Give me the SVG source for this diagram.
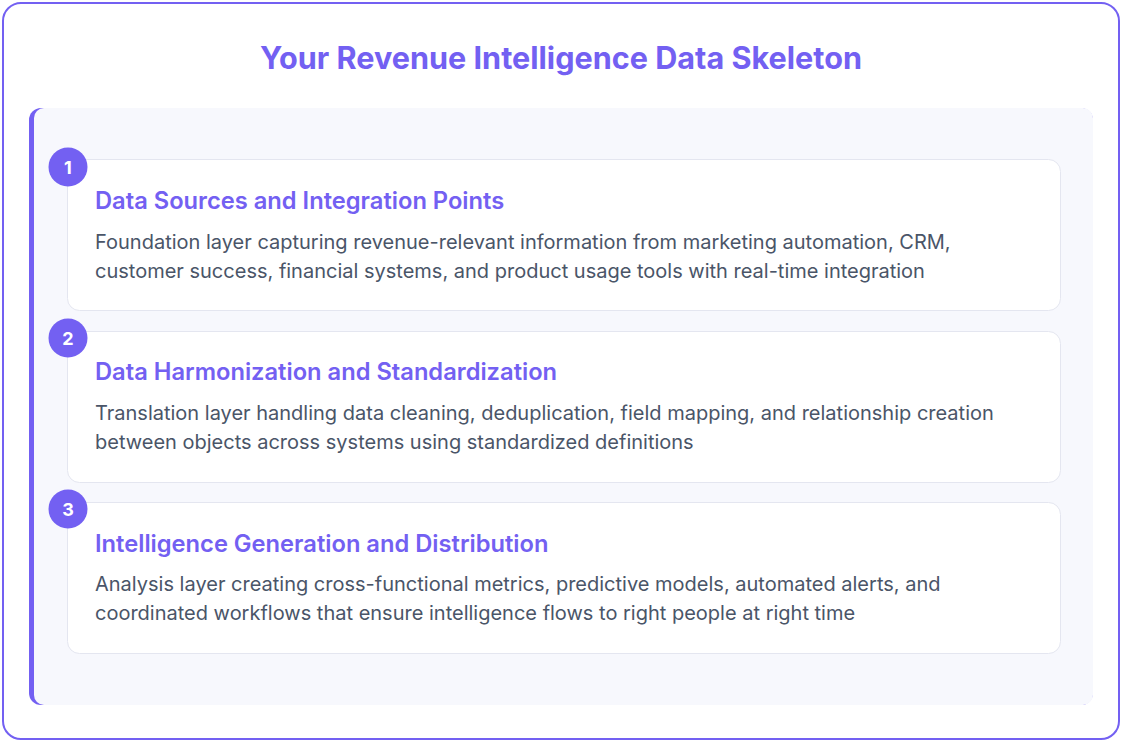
<svg xmlns="http://www.w3.org/2000/svg" width="1122" height="742" viewBox="0 0 1122 742">
<style>
.title{font-family:Inter,"Liberation Sans",sans-serif;font-weight:700;font-size:30.6px;fill:#7360f2}
.ct{font-family:Inter,"Liberation Sans",sans-serif;font-weight:600;font-size:23.7px;fill:#7360f2}
.cb{font-family:Inter,"Liberation Sans",sans-serif;font-weight:400;font-size:20px;fill:#4a5568}
.card{fill:#ffffff;stroke:#e4e6f0;stroke-width:1}
.badge{fill:#7360f2}
.bn{font-family:Inter,"Liberation Sans",sans-serif;font-weight:700;font-size:18px;fill:#ffffff;text-anchor:middle}
</style>
<rect x="0" y="0" width="1122" height="742" fill="#ffffff"/>
<rect x="3" y="3" width="1116" height="736" rx="18" fill="#ffffff" stroke="#7360f2" stroke-width="2"/>
<text class="title" x="561" y="69" text-anchor="middle">Your Revenue Intelligence Data Skeleton</text>
<g id="panel">
<rect x="29" y="108" width="1064" height="597" rx="12" fill="#7360f2"/>
<rect x="34" y="108" width="1059" height="597" rx="10" fill="#f7f8fd"/>
</g>
<g id="connectors"></g>
<g id="node1">
<rect class="card" x="67.5" y="159.5" width="993" height="151" rx="12"/>
<circle class="badge" cx="68" cy="167" r="19.5"/>
<text class="bn" x="68" y="173.5">1</text>
<text class="ct" x="95" y="209">Data Sources and Integration Points</text>
<text class="cb" x="95" y="249">Foundation layer capturing revenue-relevant information from marketing automation, CRM,</text>
<text class="cb" x="95" y="278">customer success, financial systems, and product usage tools with real-time integration</text>
</g>
<g id="node2">
<rect class="card" x="67.5" y="331.5" width="993" height="151" rx="12"/>
<circle class="badge" cx="68" cy="338" r="19.5"/>
<text class="bn" x="68" y="344.5">2</text>
<text class="ct" x="95" y="380">Data Harmonization and Standardization</text>
<text class="cb" x="95" y="420">Translation layer handling data cleaning, deduplication, field mapping, and relationship creation</text>
<text class="cb" x="95" y="449">between objects across systems using standardized definitions</text>
</g>
<g id="node3">
<rect class="card" x="67.5" y="502.5" width="993" height="151" rx="12"/>
<circle class="badge" cx="68" cy="509" r="19.5"/>
<text class="bn" x="68" y="515.5">3</text>
<text class="ct" x="95" y="552">Intelligence Generation and Distribution</text>
<text class="cb" x="95" y="591">Analysis layer creating cross-functional metrics, predictive models, automated alerts, and</text>
<text class="cb" x="95" y="620">coordinated workflows that ensure intelligence flows to right people at right time</text>
</g>
</svg>
